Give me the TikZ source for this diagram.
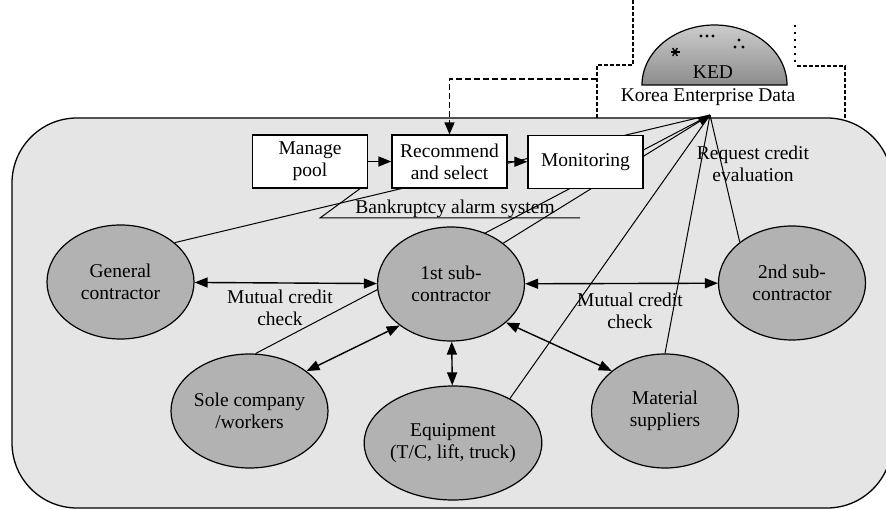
\documentclass[tikz,border=0pt]{standalone}
\usepackage{fontspec}
\setmainfont{Liberation Serif}
\usetikzlibrary{shapes.geometric,arrows.meta}
\pgfdeclarelayer{back}
\pgfdeclarelayer{mid}
\pgfsetlayers{back,mid,main}
\begin{document}
\begin{tikzpicture}[x=1pt,y=-1pt,
    font=\fontsize{19.5}{22}\selectfont,
    party/.style={ellipse,draw,line width=1.2pt,fill=black!30,minimum width=147pt,minimum height=114pt,inner sep=0pt,align=center},
    task/.style={rectangle,draw,line width=1.2pt,fill=white,minimum width=115pt,minimum height=53pt,inner sep=0pt,align=center},
    note/.style={align=center,inner sep=0pt},
    tip/.style={line width=1.4pt,-{Triangle[length=13pt,width=10pt]}},
    mutual/.style={line width=1.4pt,{Triangle[length=13pt,width=10pt]}-{Triangle[length=13pt,width=10pt]}},
    link/.style={line width=1pt},
    dashline/.style={line width=1.5pt,dash pattern=on 4pt off 2pt}]
    \useasboundingbox (0,0) rectangle (886,510);
    \begin{pgfonlayer}{back}
    \draw [line width=1.3pt,fill=black!10,rounded corners=65pt] (12,118) rectangle (892,508);% Outer area
    \end{pgfonlayer}
    % KED dome
    \shade [top color=black!20,bottom color=black!45,draw=black,line width=1.2pt] (642,85) arc[start angle=180,end angle=0,x radius=72.5pt,y radius=60pt] -- cycle;
    \node [note,anchor=base] (ked) at (713,79) {KED};
    \node [note,anchor=base] (kedname) at (708,102) {Korea Enterprise Data};
    \foreach \x/\y in {701/36,707/36,713/36,739/40,735/47,743/47}
        \fill (\x,\y) circle[radius=1.6pt];
    \foreach \a in {0,60,120}
        \draw [line width=1.5pt] (675,52) ++(\a:4.5pt) -- ++(\a+180:9pt);
    \coordinate (kedin) at (710,115);
    % Dashed links to KED
    \coordinate (dashTop)   at (633,0);
    \coordinate (dashStep)  at (633,65);
    \coordinate (dashKnee)  at (597,65);
    \coordinate (dashFork)  at (597,79);
    \coordinate (dashFoot)  at (597,118);
    \coordinate (dotTop)    at (795,25);
    \coordinate (dotEnd)    at (795,63);
    \coordinate (dashRight) at (845,66);
    \coordinate (dashRFoot) at (845,118);
    \draw [dashline] (dashTop) -- (dashStep) -- (dashKnee) -- (dashFoot);
    \draw [line width=1.6pt,dash pattern=on 2pt off 5pt] (dotTop) -- (dotEnd);
    \draw [dashline] (797,66) -- (dashRight) -- (dashRFoot);
    % Process boxes
    \node [task] (pool) at (310,161.5) {Manage\\pool};
    \node [task] (rec)  at (449.5,161.5) {Recommend\\and select};
    \node [task] (mon)  at (585.5,162) {Monitoring};
    \draw [dashline,dash pattern=on 6pt off 3pt,-{Triangle[length=12pt,width=10pt]}] (dashFork) -| (rec.north);
    \draw [tip] (pool) -- (rec);
    \draw [tip] (rec) -- (mon);
    % Alarm system
    \coordinate (alarmL) at (320,218);
    \coordinate (alarmR) at (580,218);
    \node [note,anchor=base] (alarm) at (455,214) {Bankruptcy alarm system};
    % Parties
    \node [party] (gen)    at (120.5,282) {General\\contractor};
    \node [party] (first)  at (451,284)   {1st sub-\\contractor};
    \node [party] (second) at (792,283)   {2nd sub-\\contractor};
    \node [party] (sole)   at (249.5,411) {Sole company\\/workers};
    \node [party] (equip)  at (453,443)   {Equipment\\(T/C, lift, truck)};
    \node [party] (mat)    at (665,411)   {Material\\suppliers};
    % Credit evaluation requests
    \begin{pgfonlayer}{mid}
    \draw [link] (gen.36) -- (kedin);
    \draw [link] (sole.84) -- (kedin);
    \draw [link] (equip.38) -- (kedin);
    \draw [link] (mat.north) -- (kedin);
    \draw [link] (second.142) -- (kedin);
    \draw [link,-{Triangle[length=12pt,width=9pt]}] (first.38) -- (kedin);
    \draw [link] ([xshift=-8pt]pool.south east) -- (alarmL) -- (alarmR);
    \end{pgfonlayer}
    \node [note] (req) at (753,164) {Request credit\\evaluation};
    % Mutual checks
    \draw [mutual] (gen) -- (first);
    \draw [mutual] (first) -- (second);
    \draw [mutual] (sole.35) -- (first.219);
    \draw [mutual] (first) -- (equip);
    \draw [mutual] (first.-35) -- (mat.143);
    \node [note] (mcL) at (280,308) {Mutual credit\\check};
    \node [note] (mcR) at (630,311) {Mutual credit\\check};
\end{tikzpicture}
\end{document}
